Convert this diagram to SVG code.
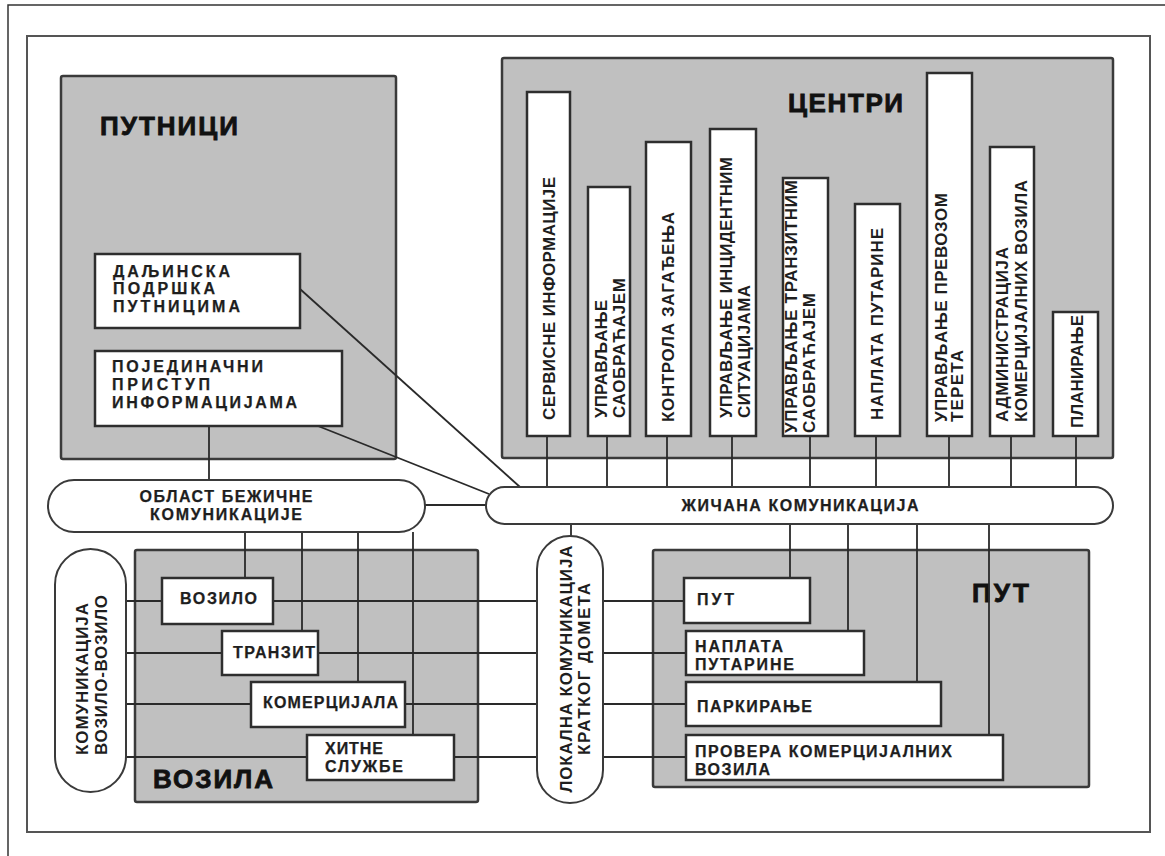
<svg xmlns="http://www.w3.org/2000/svg" width="1165" height="856" viewBox="0 0 1165 856">
  <style>
    .frame { fill: none; stroke: #555; stroke-width: 2; }
    .outer { fill: none; stroke: #333; stroke-width: 1.5; }
    .grp { fill: #c0c0c0; stroke: #3a3a3a; stroke-width: 2.5; }
    .box { fill: #fff; stroke: #2e2e2e; stroke-width: 2.5; }
    .pill { fill: #fff; stroke: #3a3a3a; stroke-width: 2; }
    .ln { fill: none; stroke: #2a2a2a; stroke-width: 1.8; }
    text { font-family: "Liberation Sans", Arial, sans-serif; fill: #1e1e1e; }
    .t { font-size: 16px; font-weight: bold; stroke: #1e1e1e; stroke-width: 0.25; }
    .tv { font-size: 17px; font-weight: bold; }
    .title { font-size: 26px; font-weight: bold; fill: #111; stroke: #111; stroke-width: 0.8; }
    .mid { text-anchor: middle; }
  </style>

  <!-- page borders -->
  <path class="outer" d="M8,856 V5 H1165"/>
  <rect class="frame" x="27" y="36" width="1123" height="796"/>

  <!-- grouping areas -->
  <g id="putnici">
    <rect class="grp" x="61" y="76" width="335" height="383" rx="2"/>
    <text class="title" x="100" y="135" textLength="138">ПУТНИЦИ</text>
  </g>
  <g id="centri">
    <rect class="grp" x="502" y="58" width="611" height="400" rx="2"/>
    <text class="title" x="788" y="112" textLength="115">ЦЕНТРИ</text>
  </g>
  <g id="vozila">
    <rect class="grp" x="135" y="550" width="343" height="252" rx="2"/>
    <text class="title" x="153" y="788" textLength="120">ВОЗИЛА</text>
  </g>
  <g id="put">
    <rect class="grp" x="653" y="550" width="436" height="237" rx="2"/>
    <text class="title" x="972" y="602" textLength="57">ПУТ</text>
  </g>

  <!-- connectors -->
  <g id="connectors">
    <!-- travellers to the networks -->
    <line class="ln" x1="300" y1="289" x2="520" y2="487"/>
    <line class="ln" x1="318" y1="426" x2="489" y2="494"/>
    <line class="ln" x1="209" y1="426" x2="209" y2="480"/>
    <line class="ln" x1="425" y1="505" x2="487" y2="505"/>
    <!-- centres down to the wired bus -->
    <line class="ln" x1="547" y1="436" x2="547" y2="487"/>
    <line class="ln" x1="607" y1="436" x2="607" y2="487"/>
    <line class="ln" x1="667" y1="436" x2="667" y2="487"/>
    <line class="ln" x1="732" y1="436" x2="732" y2="487"/>
    <line class="ln" x1="810" y1="436" x2="810" y2="487"/>
    <line class="ln" x1="876" y1="436" x2="876" y2="487"/>
    <line class="ln" x1="949" y1="436" x2="949" y2="487"/>
    <line class="ln" x1="1011" y1="436" x2="1011" y2="487"/>
    <line class="ln" x1="1076" y1="436" x2="1076" y2="487"/>
    <!-- wired bus down to road side -->
    <line class="ln" x1="571" y1="524" x2="571" y2="536"/>
    <line class="ln" x1="790" y1="524" x2="790" y2="578"/>
    <line class="ln" x1="848" y1="524" x2="848" y2="631"/>
    <line class="ln" x1="917" y1="524" x2="917" y2="682"/>
    <line class="ln" x1="989" y1="524" x2="989" y2="735"/>
    <!-- wireless area down to vehicles -->
    <line class="ln" x1="245" y1="532" x2="245" y2="578"/>
    <line class="ln" x1="302" y1="532" x2="302" y2="631"/>
    <line class="ln" x1="358" y1="532" x2="358" y2="682"/>
    <line class="ln" x1="413" y1="532" x2="413" y2="735"/>
    <!-- vehicle-to-vehicle and short range rows -->
    <line class="ln" x1="126" y1="601" x2="537" y2="601"/>
    <line class="ln" x1="126" y1="653" x2="537" y2="653"/>
    <line class="ln" x1="126" y1="704" x2="537" y2="704"/>
    <line class="ln" x1="126" y1="757" x2="537" y2="757"/>
    <line class="ln" x1="603" y1="601" x2="686" y2="601"/>
    <line class="ln" x1="603" y1="653" x2="686" y2="653"/>
    <line class="ln" x1="603" y1="704" x2="686" y2="704"/>
    <line class="ln" x1="603" y1="757" x2="686" y2="757"/>
  </g>

  <!-- traveller nodes -->
  <g id="daljinska-podrska">
    <rect class="box" x="95" y="254" width="205" height="74"/>
    <text class="t" x="113" y="277" textLength="117">ДАЉИНСКА</text>
    <text class="t" x="113" y="294" textLength="102">ПОДРШКА</text>
    <text class="t" x="113" y="312" textLength="127">ПУТНИЦИМА</text>
  </g>
  <g id="pojedinacni-pristup">
    <rect class="box" x="95" y="351" width="247" height="75"/>
    <text class="t" x="112" y="372" textLength="151">ПОЈЕДИНАЧНИ</text>
    <text class="t" x="112" y="390" textLength="98">ПРИСТУП</text>
    <text class="t" x="112" y="408" textLength="185">ИНФОРМАЦИЈАМА</text>
  </g>

  <!-- centre nodes -->
  <g id="servisne-informacije">
    <rect class="box" x="527" y="92" width="43" height="344"/>
    <text class="tv" transform="translate(555,420) rotate(-90)" textLength="243">СЕРВИСНЕ ИНФОРМАЦИЈЕ</text>
  </g>
  <g id="upravljanje-saobracajem">
    <rect class="box" x="588" y="187" width="42" height="249"/>
    <text class="tv" transform="translate(607,418) rotate(-90)" textLength="118">УПРАВЉАЊЕ</text>
    <text class="tv" transform="translate(625,418) rotate(-90)" textLength="140">САОБРАЋАЈЕМ</text>
  </g>
  <g id="kontrola-zagadjenja">
    <rect class="box" x="646" y="142" width="45" height="294"/>
    <text class="tv" transform="translate(674,422) rotate(-90)" textLength="210">КОНТРОЛА ЗАГАЂЕЊА</text>
  </g>
  <g id="incidentne-situacije">
    <rect class="box" x="710" y="129" width="46" height="307"/>
    <text class="tv" transform="translate(732,418) rotate(-90)" textLength="261">УПРАВЉАЊЕ ИНЦИДЕНТНИМ</text>
    <text class="tv" transform="translate(750,418) rotate(-90)" textLength="133">СИТУАЦИЈАМА</text>
  </g>
  <g id="tranzitni-saobracaj">
    <rect class="box" x="783" y="178" width="45" height="258"/>
    <text class="tv" transform="translate(797,433) rotate(-90)" textLength="253">УПРАВЉАЊЕ ТРАНЗИТНИМ</text>
    <text class="tv" transform="translate(815,433) rotate(-90)" textLength="140">САОБРАЋАЈЕМ</text>
  </g>
  <g id="naplata-putarine-centar">
    <rect class="box" x="855" y="204" width="45" height="232"/>
    <text class="tv" transform="translate(883,420) rotate(-90)" textLength="192">НАПЛАТА ПУТАРИНЕ</text>
  </g>
  <g id="prevoz-tereta">
    <rect class="box" x="927" y="73" width="45" height="363"/>
    <text class="tv" transform="translate(947,422) rotate(-90)" textLength="229">УПРАВЉАЊЕ ПРЕВОЗОМ</text>
    <text class="tv" transform="translate(963,422) rotate(-90)" textLength="72">ТЕРЕТА</text>
  </g>
  <g id="administracija-vozila">
    <rect class="box" x="990" y="147" width="44" height="289"/>
    <text class="tv" transform="translate(1008,422) rotate(-90)" textLength="175">АДМИНИСТРАЦИЈА</text>
    <text class="tv" transform="translate(1027,422) rotate(-90)" textLength="242">КОМЕРЦИЈАЛНИХ ВОЗИЛА</text>
  </g>
  <g id="planiranje">
    <rect class="box" x="1053" y="312" width="45" height="124"/>
    <text class="tv" transform="translate(1083,428) rotate(-90)" textLength="113">ПЛАНИРАЊЕ</text>
  </g>

  <!-- communication links -->
  <g id="bezicna-komunikacija">
    <rect class="pill" x="48" y="480" width="377" height="52" rx="26"/>
    <text class="t mid" x="226" y="502" textLength="173">ОБЛАСТ БЕЖИЧНЕ</text>
    <text class="t mid" x="226" y="520" textLength="152">КОМУНИКАЦИЈЕ</text>
  </g>
  <g id="zicana-komunikacija">
    <rect class="pill" x="486" y="487" width="627" height="37" rx="18.5"/>
    <text class="t mid" x="800" y="511" textLength="237">ЖИЧАНА КОМУНИКАЦИЈА</text>
  </g>
  <g id="vozilo-vozilo">
    <rect class="pill" x="55" y="549" width="71" height="243" rx="35.5"/>
    <text class="tv mid" transform="translate(88,679) rotate(-90)" textLength="152">КОМУНИКАЦИЈА</text>
    <text class="tv mid" transform="translate(107,675) rotate(-90)" textLength="160">ВОЗИЛО-ВОЗИЛО</text>
  </g>
  <g id="lokalna-komunikacija">
    <rect class="pill" x="537" y="536" width="66" height="267" rx="33"/>
    <text class="tv mid" transform="translate(572,669) rotate(-90)" textLength="247">ЛОКАЛНА КОМУНИКАЦИЈА</text>
    <text class="tv mid" transform="translate(590,669) rotate(-90)" textLength="172">КРАТКОГ ДОМЕТА</text>
  </g>

  <!-- vehicle nodes -->
  <g id="vozilo">
    <rect class="box" x="162" y="578" width="111" height="46"/>
    <text class="t" x="180" y="604" textLength="77">ВОЗИЛО</text>
  </g>
  <g id="tranzit">
    <rect class="box" x="222" y="631" width="96" height="44"/>
    <text class="t" x="233" y="658" textLength="82">ТРАНЗИТ</text>
  </g>
  <g id="komercijala">
    <rect class="box" x="251" y="682" width="154" height="45"/>
    <text class="t" x="263" y="708" textLength="135">КОМЕРЦИЈАЛА</text>
  </g>
  <g id="hitne-sluzbe">
    <rect class="box" x="307" y="735" width="147" height="45"/>
    <text class="t" x="325" y="754" textLength="58">ХИТНЕ</text>
    <text class="t" x="325" y="772" textLength="78">СЛУЖБЕ</text>
  </g>

  <!-- roadside nodes -->
  <g id="put-cvor">
    <rect class="box" x="684" y="578" width="126" height="45"/>
    <text class="t" x="697" y="605" textLength="37">ПУТ</text>
  </g>
  <g id="naplata-putarine">
    <rect class="box" x="686" y="631" width="178" height="44"/>
    <text class="t" x="695" y="652" textLength="88">НАПЛАТА</text>
    <text class="t" x="695" y="670" textLength="99">ПУТАРИНЕ</text>
  </g>
  <g id="parkiranje">
    <rect class="box" x="686" y="682" width="255" height="44"/>
    <text class="t" x="697" y="712" textLength="115">ПАРКИРАЊЕ</text>
  </g>
  <g id="provera-vozila">
    <rect class="box" x="686" y="735" width="317" height="45"/>
    <text class="t" x="695" y="757" textLength="257">ПРОВЕРА КОМЕРЦИЈАЛНИХ</text>
    <text class="t" x="695" y="775" textLength="75">ВОЗИЛА</text>
  </g>
</svg>
